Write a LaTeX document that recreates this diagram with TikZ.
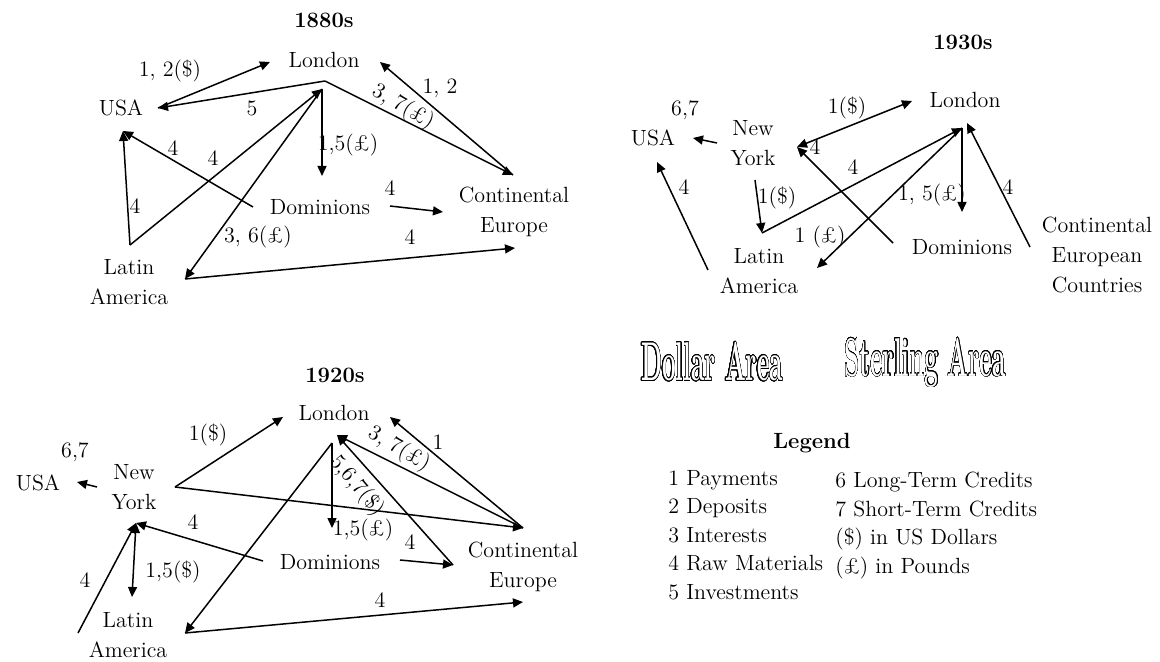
\documentclass[tikz,border=0pt]{standalone}
\usepackage{fontspec}
\usepackage{graphicx}
\usepackage{contour}
\usetikzlibrary{arrows.meta}
\contourlength{0.35pt}
\contournumber{32}

\begin{document}
\begin{tikzpicture}[x=0.5pt,y=-0.5pt,font=\fontsize{11}{15}\selectfont]
  \tikzstyle{place}=[align=center,inner sep=1pt]
  \tikzstyle{num}=[inner sep=1pt]
  \tikzstyle{title}=[inner sep=1pt,font=\fontsize{11}{15}\selectfont\bfseries]
  \tikzstyle{flow}=[line width=0.75pt,-{Triangle[length=5pt,width=4.5pt]}]
  \tikzstyle{both}=[line width=0.75pt,{Triangle[length=5pt,width=4.5pt]}-{Triangle[length=5pt,width=4.5pt]}]
  \tikzstyle{area}=[inner sep=0pt]
  \tikzstyle{key}=[anchor=north west,align=left,inner sep=0pt,font=\fontsize{11}{14.2}\selectfont]
  \useasboundingbox (0,0) rectangle (1160,662);

  % 1880s
  \node[title] (t80) at (324,20) {1880s};
  \node[place] (lon80) at (324,60) {London};
  \node[place] (usa80) at (121,108) {USA};
  \node[place] (dom80) at (320,207) {Dominions};
  \node[place] (ce80) at (514,212) {Continental\\Europe};
  \node[place] (la80) at (129,282) {Latin\\America};
  \coordinate (usa80a) at (158,108);
  \coordinate (usa80b) at (123,131);
  \coordinate (lon80a) at (270,62);
  \coordinate (lon80b) at (325,81);
  \coordinate (lon80c) at (322,89);
  \coordinate (lon80d) at (380,62);
  \coordinate (dom80a) at (322,176);
  \coordinate (dom80b) at (253,207);
  \coordinate (dom80c) at (390,206);
  \coordinate (ce80a) at (443,212);
  \coordinate (ce80b) at (513,175);
  \coordinate (ce80c) at (515,248);
  \coordinate (la80a) at (130,245);
  \coordinate (la80b) at (185,279);
  \draw[flow] (usa80a) -- (lon80a);
  \draw[flow] (lon80b) -- (usa80a);
  \draw[flow] (lon80b) -- (ce80b);
  \draw[flow] (ce80b) -- (lon80d);
  \draw[flow] (lon80c) -- (dom80a);
  \draw[flow] (la80a) -- (lon80c);
  \draw[flow] (lon80c) -- (la80b);
  \draw[flow] (la80a) -- (usa80b);
  \draw[flow] (dom80b) -- (usa80b);
  \draw[flow] (dom80c) -- (ce80a);
  \draw[flow] (la80b) -- (ce80c);
  \node[num] (n80a) at (170,71) {1, 2(\$)};
  \node[num] (n80b) at (252,108) {5};
  \node[num,rotate=-30] (n80c) at (403,107) {3, 7(£)};
  \node[num] (n80d) at (440,88) {1, 2};
  \node[num] (n80e) at (348,145) {1,5(£)};
  \node[num] (n80f) at (173,148) {4};
  \node[num] (n80g) at (213,158) {4};
  \node[num] (n80h) at (135,206) {4};
  \node[num] (n80i) at (390,188) {4};
  \node[num] (n80j) at (258,237) {3, 6(£)};
  \node[num] (n80k) at (410,237) {4};

  % 1920s
  \node[title] (t20) at (335,375) {1920s};
  \node[place] (lon20) at (334,413) {London};
  \node[place] (usa20) at (38,483) {USA};
  \node[place] (ny20) at (134,487) {New\\York};
  \node[place] (dom20) at (330,562) {Dominions};
  \node[place] (ce20) at (523,567) {Continental\\Europe};
  \node[place] (la20) at (128,635) {Latin\\America};
  \coordinate (ny20a) at (97,487);
  \coordinate (usa20a) at (77,482);
  \coordinate (ny20b) at (175,487);
  \coordinate (ny20c) at (136,523);
  \coordinate (lon20a) at (283,417);
  \coordinate (lon20b) at (332,443);
  \coordinate (lon20c) at (337,435);
  \coordinate (lon20d) at (390,417);
  \coordinate (ce20a) at (523,528);
  \coordinate (ce20b) at (523,602);
  \coordinate (dom20a) at (332,528);
  \coordinate (dom20b) at (453,565);
  \coordinate (dom20c) at (400,560);
  \coordinate (dom20d) at (263,561);
  \coordinate (la20a) at (185,633);
  \coordinate (la20b) at (78,633);
  \coordinate (la20c) at (132,597);
  \draw[flow] (ny20a) -- (usa20a);
  \draw[flow] (ny20b) -- (lon20a);
  \draw[flow] (ny20b) -- (ce20a);
  \draw[flow] (lon20b) -- (la20a);
  \draw[flow] (la20a) -- (ce20b);
  \draw[flow] (lon20b) -- (dom20a);
  \draw[flow] (ce20a) -- (lon20c);
  \draw[flow] (dom20b) -- (lon20c);
  \draw[flow] (dom20c) -- (dom20b);
  \draw[flow] (ce20a) -- (lon20d);
  \draw[flow] (dom20d) -- (ny20c);
  \draw[flow] (la20b) -- (ny20c);
  \draw[both] (ny20c) -- (la20c);
  \node[num] (n20a) at (75,452) {6,7};
  \node[num] (n20b) at (208,435) {1(\$)};
  \node[num] (n20c) at (193,522) {4};
  \node[num] (n20d) at (85,580) {4};
  \node[num] (n20e) at (173,572) {1,5(\$)};
  \node[num,rotate=-30] (n20f) at (399,449) {3, 7(£)};
  \node[num] (n20g) at (438,442) {1};
  \node[num,rotate=-50] (n20h) at (357,486) {5,6,7(\$)};
  \node[num] (n20i) at (363,530) {1,5(£)};
  \node[num] (n20j) at (410,542) {4};
  \node[num] (n20k) at (380,600) {4};

  % 1930s
  \node[title] (t30) at (963,42) {1930s};
  \node[place] (lon30) at (965,100) {London};
  \node[place] (usa30) at (653,138) {USA};
  \node[place] (ny30) at (753,143) {New\\York};
  \node[place] (dom30) at (962,247) {Dominions};
  \node[place] (ce30) at (1097,255) {Continental\\European\\Countries};
  \node[place] (la30) at (759,271) {Latin\\America};
  \coordinate (ny30a) at (797,147);
  \coordinate (ny30b) at (717,143);
  \coordinate (ny30c) at (755,180);
  \coordinate (usa30a) at (693,138);
  \coordinate (usa30b) at (657,162);
  \coordinate (lon30a) at (912,101);
  \coordinate (lon30b) at (962,128);
  \coordinate (lon30c) at (967,123);
  \coordinate (dom30a) at (893,243);
  \coordinate (dom30b) at (962,212);
  \coordinate (ce30a) at (1030,247);
  \coordinate (la30a) at (762,233);
  \coordinate (la30b) at (817,268);
  \coordinate (la30d) at (708,270);
  \draw[both] (ny30a) -- (lon30a);
  \draw[flow] (dom30a) -- (ny30a);
  \draw[flow] (la30a) -- (lon30b);
  \draw[flow] (lon30b) -- (la30b);
  \draw[flow] (lon30b) -- (dom30b);
  \draw[flow] (ce30a) -- (lon30c);
  \draw[flow] (ny30b) -- (usa30a);
  \draw[flow] (ny30c) -- (la30a);
  \draw[flow] (la30d) -- (usa30b);
  \node[num] (n30a) at (847,108) {1(\$)};
  \node[num] (n30b) at (815,147) {4};
  \node[num] (n30c) at (853,167) {4};
  \node[num] (n30d) at (820,237) {1 (£)};
  \node[num] (n30e) at (932,195) {1, 5(£)};
  \node[num] (n30f) at (1008,187) {4};
  \node[num] (n30g) at (685,110) {6,7};
  \node[num] (n30h) at (777,198) {1(\$)};
  \node[num] (n30i) at (684,187) {4};

  % areas
  \node[area] (dollar) at (712,362) {\scalebox{0.47}[1.05]{\fontsize{26}{26}\selectfont\bfseries\contour{black}{\color{white}Dollar Area}}};
  \node[area] (sterling) at (925,363) {\scalebox{0.47}[1.05]{\fontsize{26}{26}\selectfont\bfseries\contour{black}{\color{white}Sterling Area}}};

  % legend
  \node[title] (leg) at (812,443) {Legend};
  \node[key] (legl) at (668,470) {1 Payments\\2 Deposits\\3 Interests\\4 Raw Materials\\5 Investments};
  \node[key] (legr) at (835,472) {6 Long-Term Credits\\7 Short-Term Credits\\(\$) in US Dollars\\(£) in Pounds};
\end{tikzpicture}
\end{document}
